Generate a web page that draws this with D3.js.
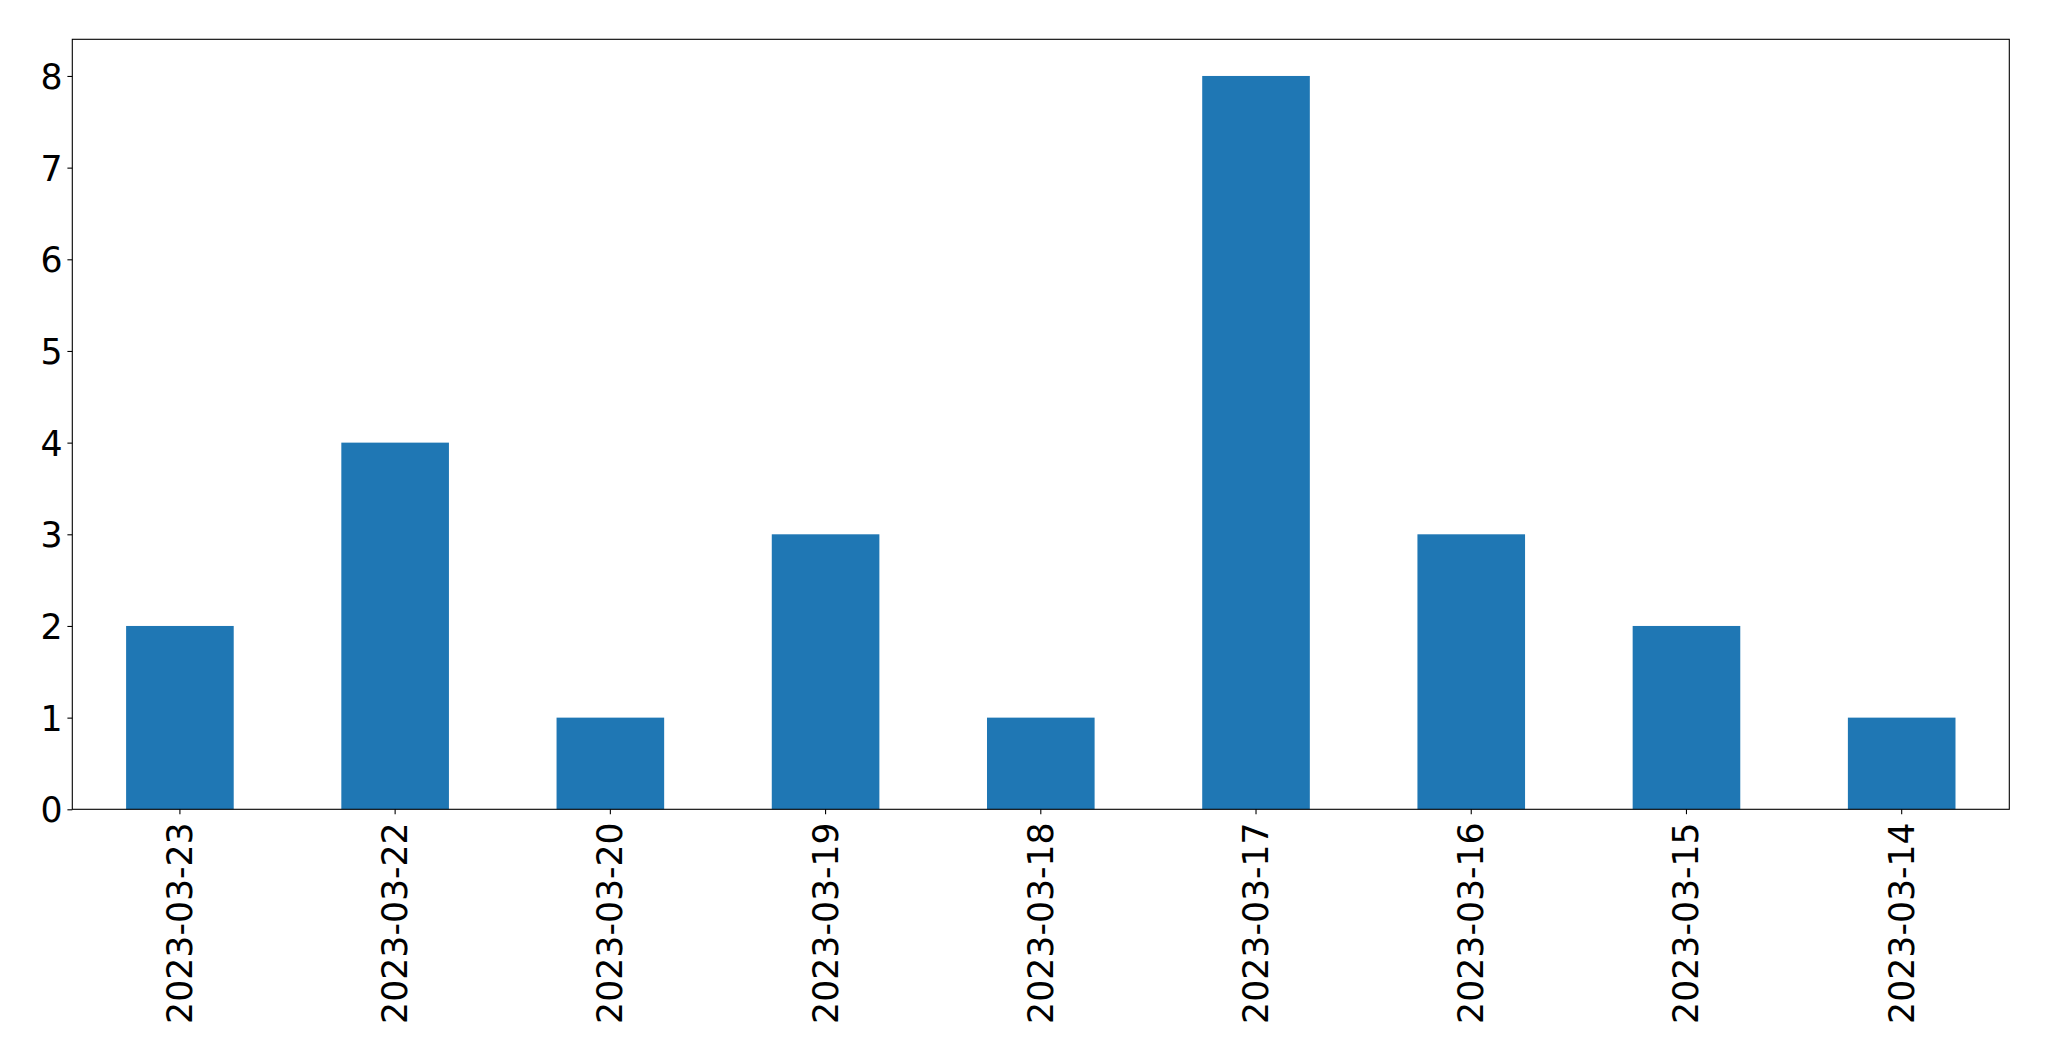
<!DOCTYPE html>
<html>
<head>
<meta charset="utf-8">
<script src="https://cdn.jsdelivr.net/npm/d3@7"></script>
<style>
html,body{margin:0;padding:0;background:#fff;}
svg{display:block;}
</style>
</head>
<body>
<script>
const categories = ["2023-03-23","2023-03-22","2023-03-20","2023-03-19","2023-03-18","2023-03-17","2023-03-16","2023-03-15","2023-03-14"];
const values = [2,4,1,3,1,8,3,2,1];
const yTicks = [0,1,2,3,4,5,6,7,8];

const W = 2049, H = 1061;
const m = {left:72.3, right:W-2009.3, top:39.3, bottom:H-809.3};
const fontPx = 34.7;

const svg = d3.select("body").append("svg").attr("width",W).attr("height",H);

const x = d3.scaleBand().domain(categories).range([m.left, W-m.right]).paddingInner(0.5).paddingOuter(0.25);
const y = d3.scaleLinear().domain([0, d3.max(values)*1.05]).range([H-m.bottom, m.top]);

svg.append("g").selectAll("rect").data(values).join("rect")
  .attr("x",(d,i)=>x(categories[i]))
  .attr("width",x.bandwidth())
  .attr("y",d=>y(d))
  .attr("height",d=>y(0)-y(d))
  .attr("fill","#1f77b4");

const yAxis = svg.append("g").attr("transform",`translate(${m.left},0)`)
  .call(d3.axisLeft(y).tickValues(yTicks).tickFormat(d3.format("d")).tickSizeInner(4.9).tickSizeOuter(0).tickPadding(4.9));
yAxis.select(".domain").remove();
yAxis.selectAll("line").attr("stroke","#000").attr("stroke-width",1.1);
yAxis.selectAll("text").attr("font-family","DejaVu Sans").attr("font-size",fontPx).attr("fill","#000").attr("dy","0.36em");

const xAxis = svg.append("g").attr("transform",`translate(0,${H-m.bottom})`)
  .call(d3.axisBottom(x).tickSizeInner(4.9).tickSizeOuter(0).tickPadding(4.9));
xAxis.select(".domain").remove();
xAxis.selectAll("line").attr("stroke","#000").attr("stroke-width",1.1);
xAxis.selectAll("text")
  .attr("font-family","DejaVu Sans").attr("font-size",fontPx).attr("fill","#000")
  .attr("text-anchor","end")
  .attr("dy",null).attr("y",null)
  .attr("dominant-baseline","central")
  .attr("transform","translate(0,13) rotate(-90)");

svg.append("rect")
  .attr("x",m.left).attr("y",m.top)
  .attr("width",W-m.left-m.right).attr("height",H-m.top-m.bottom)
  .attr("fill","none").attr("stroke","#000").attr("stroke-width",1.1);
</script>
</body>
</html>
